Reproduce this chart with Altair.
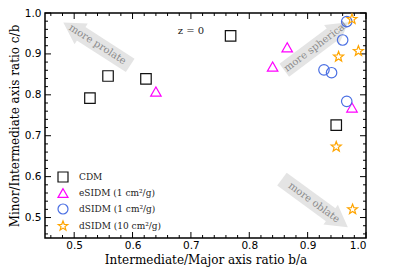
import math
import altair as alt
import pandas as pd

# ---- data ----
series_names = ["CDM", "eSIDM (1 cm²/g)", "dSIDM (1 cm²/g)", "dSIDM (10 cm²/g)"]
cdm_x = [0.527, 0.558, 0.623, 0.768, 0.949]
cdm_y = [0.792, 0.846, 0.839, 0.944, 0.726]
esidm_x = [0.640, 0.840, 0.865, 0.976]
esidm_y = [0.808, 0.869, 0.916, 0.769]
dsidm1_x = [0.967, 0.960, 0.928, 0.941, 0.967]
dsidm1_y = [0.979, 0.934, 0.861, 0.854, 0.784]
dsidm10_x = [0.976, 0.987, 0.953, 0.949, 0.977]
dsidm10_y = [0.985, 0.907, 0.893, 0.673, 0.520]

x_major = [0.5, 0.6, 0.7, 0.8, 0.9, 1.0]
y_major = [0.5, 0.6, 0.7, 0.8, 0.9, 1.0]

arrow_labels = ["more prolate", "more spherical", "more oblate"]
arrow_tail_x = [0.596, 0.860, 0.856]
arrow_tail_y = [0.872, 0.860, 0.594]
arrow_tip_x = [0.477, 0.974, 0.973]
arrow_tip_y = [0.981, 0.982, 0.472]

W, H = 321, 225
XD = (0.45, 1.0)
YD = (0.45, 1.0)

rows = []
for name, xs_, ys_ in zip(series_names,
                          [cdm_x, esidm_x, dsidm1_x, dsidm10_x],
                          [cdm_y, esidm_y, dsidm1_y, dsidm10_y]):
    for a, b in zip(xs_, ys_):
        rows.append({"series": name, "ba": a, "cb": b})
df = pd.DataFrame(rows)

xs = alt.Scale(domain=list(XD), nice=False, zero=False)
ys = alt.Scale(domain=list(YD), nice=False, zero=False)

def px(v):
    return (v - XD[0]) / (XD[1] - XD[0]) * W

def py(v):
    return H - (v - YD[0]) / (YD[1] - YD[0]) * H

def inv_x(p):
    return XD[0] + p / W * (XD[1] - XD[0])

def inv_y(p):
    return YD[0] + (H - p) / H * (YD[1] - YD[0])

# star path
pts = []
for k in range(10):
    ang = math.radians(-90 + 36 * k)
    r = 1.0 if k % 2 == 0 else 0.42
    pts.append(f"{r*math.cos(ang):.3f},{r*math.sin(ang):.3f}")
star = "M" + " L".join(pts) + " Z"

colors = ["#111111", "#ff00ff", "#4a6fe3", "#ffa500"]
shapes = ["square", "triangle-up", "circle", star]

# ---- arrows ----
arr_rows, head_rows, txt_rows = [], [], []
for lab, tx, ty, hx, hy in zip(arrow_labels, arrow_tail_x, arrow_tail_y, arrow_tip_x, arrow_tip_y):
    x0, y0, x1, y1 = px(tx), py(ty), px(hx), py(hy)
    L = math.hypot(x1 - x0, y1 - y0)
    ux, uy = (x1 - x0) / L, (y1 - y0) / L
    head_len = 22
    bx, by = x1 - ux * head_len, y1 - uy * head_len
    cx, cy = x1 - ux * head_len * 0.62, y1 - uy * head_len * 0.62
    arr_rows.append({"x": inv_x(x0), "y": inv_y(y0), "x2": inv_x(bx + ux * 2), "y2": inv_y(by + uy * 2)})
    ang = math.degrees(math.atan2(ux, -uy)) % 360
    head_rows.append({"x": inv_x(cx), "y": inv_y(cy), "angle": ang})
    mx, my = x0 + (x1 - x0) * 0.47, y0 + (y1 - y0) * 0.47
    tang = math.degrees(math.atan2(uy, ux))
    if ux < 0:
        tang = math.degrees(math.atan2(-uy, -ux))
    txt_rows.append({"x": inv_x(mx), "y": inv_y(my), "label": lab, "angle": tang % 360})

arr_df = pd.DataFrame(arr_rows)
head_df = pd.DataFrame(head_rows)
txt_df = pd.DataFrame(txt_rows)

arrow_col = "#e4e4e4"
bodies = alt.Chart(arr_df).mark_rule(strokeWidth=16, color=arrow_col, strokeCap="butt").encode(
    x=alt.X("x:Q", scale=xs), y=alt.Y("y:Q", scale=ys), x2="x2:Q", y2="y2:Q")
heads = alt.Chart(head_df).mark_point(shape="triangle-up", filled=True, size=600, color=arrow_col, opacity=1).encode(
    x=alt.X("x:Q", scale=xs), y=alt.Y("y:Q", scale=ys), angle=alt.Angle("angle:Q", scale=None))
texts = alt.Chart(txt_df).mark_text(font="DejaVu Serif", fontSize=10, color="#8a8a8a", baseline="middle", align="center").encode(
    x=alt.X("x:Q", scale=xs), y=alt.Y("y:Q", scale=ys), text="label:N", angle=alt.Angle("angle:Q", scale=None))

# ---- points ----
legend_common = dict(title=None, orient="none", legendX=12, legendY=158,
                     labelFont="DejaVu Serif", labelFontSize=9, labelColor="#222",
                     symbolSize=100, symbolStrokeWidth=1.2, rowPadding=1, labelOffset=10)
points = alt.Chart(df).mark_point(filled=False, size=110, strokeWidth=1.2, opacity=1).encode(
    x=alt.X("ba:Q", scale=xs, title="Intermediate/Major axis ratio b/a",
            axis=alt.Axis(values=x_major, format=".1f", tickSize=0, domain=False, grid=False,
                          labelFont="DejaVu Sans", labelFontSize=10.5, labelColor="black", labelPadding=2,
                          titleFont="DejaVu Serif", titleFontSize=12, titleFontWeight="normal",
                          titleColor="black", titleY=21, titleBaseline="middle")),
    y=alt.Y("cb:Q", scale=ys, title="Minor/Intermediate axis ratio c/b",
            axis=alt.Axis(values=y_major, format=".1f", tickSize=0, domain=False, grid=False,
                          labelFont="DejaVu Sans", labelFontSize=10.5, labelColor="black", labelPadding=4,
                          titleFont="DejaVu Serif", titleFontSize=12, titleFontWeight="normal",
                          titleColor="black", titleX=-31, titleBaseline="middle")),
    color=alt.Color("series:N", scale=alt.Scale(domain=series_names, range=colors),
                    legend=alt.Legend(**legend_common)),
    shape=alt.Shape("series:N", scale=alt.Scale(domain=series_names, range=shapes),
                    legend=alt.Legend(**legend_common)),
)

ztext = alt.Chart(pd.DataFrame({"x": [0.70], "y": [0.956], "t": ["z = 0"]})).mark_text(
    font="DejaVu Serif", fontSize=10, color="#222").encode(
    x=alt.X("x:Q", scale=xs), y=alt.Y("y:Q", scale=ys), text="t:N")

# ---- inward ticks ----
def frange(a, b, step):
    out = []
    v = a
    while v <= b + 1e-9:
        out.append(round(v, 4))
        v += step
    return out

minor = [v for v in frange(0.46, 0.98, 0.02) if all(abs(v - m) > 1e-6 for m in x_major)]
tick_layers = []
for vals, ln in [(x_major, 6), (minor, 3)]:
    d = pd.DataFrame({"v": vals})
    tick_layers.append(alt.Chart(d).mark_rule(color="black", strokeWidth=1).encode(
        x=alt.X("v:Q", scale=xs), y=alt.value(H), y2=alt.value(H - ln)))
    tick_layers.append(alt.Chart(d).mark_rule(color="black", strokeWidth=1).encode(
        x=alt.X("v:Q", scale=xs), y=alt.value(0), y2=alt.value(ln)))
    tick_layers.append(alt.Chart(d).mark_rule(color="black", strokeWidth=1).encode(
        y=alt.Y("v:Q", scale=ys), x=alt.value(0), x2=alt.value(ln)))
    tick_layers.append(alt.Chart(d).mark_rule(color="black", strokeWidth=1).encode(
        y=alt.Y("v:Q", scale=ys), x=alt.value(W), x2=alt.value(W - ln)))

chart = alt.layer(bodies, heads, texts, *tick_layers, ztext, points).properties(
    width=W, height=H,
    autosize=alt.AutoSizeParams(type="none"),
    padding={"left": 37, "top": 5, "right": 33, "bottom": 40},
).configure_view(stroke="black", strokeWidth=1.5)

chart.save("out.html", embed_options={"renderer": "svg", "actions": False})
